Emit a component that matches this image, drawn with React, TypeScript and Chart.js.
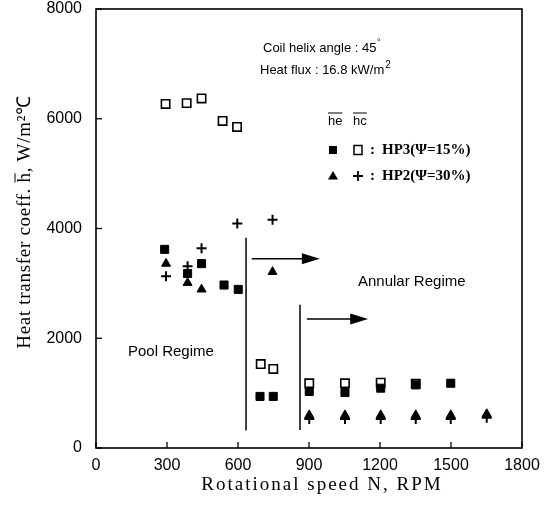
import React, { useEffect, useRef } from "react";
import { Chart, registerables } from "chart.js";

Chart.register(...registerables);

// ---- axis ticks ----
const xTickValues = [0, 300, 600, 900, 1200, 1500, 1800];
const yTickValues = [0, 2000, 4000, 6000, 8000];

// ---- HP3 (psi = 15%) ----
const hp3HeRpm = [290, 387, 446, 541, 601, 693, 749, 901, 1052, 1203, 1351, 1499];
const hp3HeVal = [3620, 3180, 3360, 2970, 2890, 940, 940, 1030, 1010, 1090, 1150, 1180];
const hp3HcRpm = [294, 383, 446, 535, 596, 696, 749, 901, 1052, 1203, 1351];
const hp3HcVal = [6270, 6285, 6370, 5960, 5850, 1530, 1440, 1180, 1180, 1190, 1170];

// ---- HP2 (psi = 30%) ----
const hp2HeRpm = [296, 387, 446, 746, 901, 1052, 1203, 1351, 1499, 1651];
const hp2HeVal = [3360, 3010, 2890, 3210, 600, 600, 600, 600, 600, 620];
const hp2HcRpm = [296, 387, 446, 597, 746, 901, 1052, 1203, 1351, 1499, 1651];
const hp2HcVal = [3130, 3310, 3640, 4090, 4160, 530, 530, 530, 530, 530, 550];

// ---- regime boundaries and arrows (data units) ----
const poolBoundary = { rpm: 634, from: 3830, to: 320 };
const annularBoundary = { rpm: 862, from: 2610, to: 330 };
const poolArrow = { fromRpm: 658, toRpm: 946, val: 3450 };
const annularArrow = { fromRpm: 891, toRpm: 1150, val: 2350 };

const pts = (xs: number[], ys: number[]) => xs.map((x, i) => ({ x, y: ys[i] }));

const SANS = "'Liberation Sans', Arial, sans-serif";
const SERIF = "'Liberation Serif', 'Times New Roman', serif";

function drawArrow(ctx: CanvasRenderingContext2D, x1: number, x2: number, y: number) {
  ctx.beginPath();
  ctx.moveTo(x1, y);
  ctx.lineTo(x2 - 14, y);
  ctx.lineWidth = 1.5;
  ctx.stroke();
  ctx.beginPath();
  ctx.moveTo(x2, y);
  ctx.lineTo(x2 - 18, y - 5.5);
  ctx.lineTo(x2 - 18, y + 5.5);
  ctx.closePath();
  ctx.fill();
}

const overlay = {
  id: "overlay",
  afterDraw(chart: any) {
    const ctx: CanvasRenderingContext2D = chart.ctx;
    const { left, right, top, bottom } = chart.chartArea;
    const xs = chart.scales.x;
    const ys = chart.scales.y;
    ctx.save();
    ctx.strokeStyle = "#000";
    ctx.fillStyle = "#000";

    // frame
    ctx.lineWidth = 1.6;
    ctx.strokeRect(left, top, right - left, bottom - top);

    // inward tick marks
    ctx.lineWidth = 1.3;
    xTickValues.forEach((v) => {
      const px = xs.getPixelForValue(v);
      ctx.beginPath();
      ctx.moveTo(px, bottom);
      ctx.lineTo(px, bottom - 6);
      ctx.stroke();
    });
    yTickValues.forEach((v) => {
      const py = ys.getPixelForValue(v);
      ctx.beginPath();
      ctx.moveTo(left, py);
      ctx.lineTo(left + 6, py);
      ctx.stroke();
    });

    // regime boundaries
    ctx.lineWidth = 1.5;
    [poolBoundary, annularBoundary].forEach((b) => {
      const px = xs.getPixelForValue(b.rpm);
      ctx.beginPath();
      ctx.moveTo(px, ys.getPixelForValue(b.from));
      ctx.lineTo(px, ys.getPixelForValue(b.to));
      ctx.stroke();
    });
    [poolArrow, annularArrow].forEach((a) => {
      drawArrow(ctx, xs.getPixelForValue(a.fromRpm), xs.getPixelForValue(a.toRpm), ys.getPixelForValue(a.val));
    });

    // annotation texts
    ctx.textBaseline = "middle";
    ctx.textAlign = "left";
    ctx.font = `13px ${SANS}`;
    const t1 = "Coil helix angle : 45";
    ctx.fillText(t1, 263, 48);
    const w1 = ctx.measureText(t1).width;
    ctx.font = `9px ${SANS}`;
    ctx.fillText("\u00B0", 263 + w1 + 0.5, 43);
    ctx.font = `13px ${SANS}`;
    const t2 = "Heat flux : 16.8 kW/m";
    ctx.fillText(t2, 260, 70);
    const w2 = ctx.measureText(t2).width;
    ctx.font = `10px ${SANS}`;
    ctx.fillText("2", 260 + w2 + 1, 65);

    ctx.font = `15px ${SANS}`;
    ctx.fillText("Pool Regime", 128, 352);
    ctx.fillText("Annular Regime", 358, 282);

    // legend header with overlines
    ctx.font = `13px ${SANS}`;
    const drawOver = (txt: string, x: number, y: number) => {
      ctx.fillText(txt, x, y);
      const w = ctx.measureText(txt).width;
      ctx.lineWidth = 1;
      ctx.beginPath();
      ctx.moveTo(x, y - 8);
      ctx.lineTo(x + w, y - 8);
      ctx.stroke();
    };
    drawOver("he", 328, 121);
    drawOver("hc", 353, 121);

    // legend rows
    const row1 = 150;
    const row2 = 176;
    ctx.fillRect(333 - 4, row1 - 4, 8, 8);
    ctx.lineWidth = 1.5;
    ctx.strokeRect(358 - 4, row1 - 4.5, 8, 9);
    ctx.beginPath();
    ctx.moveTo(333, row2 - 5);
    ctx.lineTo(338, row2 + 3.5);
    ctx.lineTo(328, row2 + 3.5);
    ctx.closePath();
    ctx.fill();
    ctx.lineWidth = 1.8;
    ctx.beginPath();
    ctx.moveTo(358 - 5, row2);
    ctx.lineTo(358 + 5, row2);
    ctx.moveTo(358, row2 - 5);
    ctx.lineTo(358, row2 + 5);
    ctx.stroke();
    ctx.font = `bold 15px ${SERIF}`;
    ctx.fillText(":", 370, row1);
    ctx.fillText(":", 370, row2);
    ctx.fillText("HP3(\u03A8=15%)", 382, row1);
    ctx.fillText("HP2(\u03A8=30%)", 382, row2);

    // axis titles
    ctx.font = `19px ${SERIF}`;
    ctx.textAlign = "center";
    (ctx as any).letterSpacing = "2px";
    ctx.fillText("Rotational speed N, RPM", 322, 485);

    (ctx as any).letterSpacing = "0.7px";
    ctx.translate(25, 222);
    ctx.rotate(-Math.PI / 2);
    const p1 = "Heat transfer coeff. ";
    const p2 = "h";
    const p3 = ", W/m\u00B2\u2103";
    const wa = ctx.measureText(p1).width;
    const wb = ctx.measureText(p2).width;
    const wc = ctx.measureText(p3).width;
    const x0 = -(wa + wb + wc) / 2;
    ctx.textAlign = "left";
    ctx.fillText(p1, x0, 0);
    ctx.fillText(p2, x0 + wa, 0);
    ctx.lineWidth = 1;
    ctx.beginPath();
    ctx.moveTo(x0 + wa, -10);
    ctx.lineTo(x0 + wa + wb - 1, -10);
    ctx.stroke();
    ctx.fillText(p3, x0 + wa + wb, 0);
    (ctx as any).letterSpacing = "0px";

    ctx.restore();
  },
};

export default function App() {
  const ref = useRef<HTMLCanvasElement>(null);

  useEffect(() => {
    const canvas = ref.current;
    if (!canvas) return;
    const tickFont = { family: "'Liberation Sans', Arial, sans-serif", size: 16 };
    const chart = new Chart(canvas, {
      type: "scatter",
      data: {
        datasets: [
          {
            label: "HP3 he",
            data: pts(hp3HeRpm, hp3HeVal),
            pointStyle: "rect",
            pointRadius: 5.7,
            backgroundColor: "#000",
            borderColor: "#000",
            borderWidth: 1,
          },
          {
            label: "HP2 he",
            data: pts(hp2HeRpm, hp2HeVal),
            pointStyle: "triangle",
            pointRadius: 5.2,
            backgroundColor: "#000",
            borderColor: "#000",
            borderWidth: 1,
          },
          {
            label: "HP2 hc",
            data: pts(hp2HcRpm, hp2HcVal),
            pointStyle: "cross",
            pointRadius: 5,
            backgroundColor: "#000",
            borderColor: "#000",
            borderWidth: 2,
          },
          {
            label: "HP3 hc",
            data: pts(hp3HcRpm, hp3HcVal),
            pointStyle: "rect",
            pointRadius: 5.9,
            backgroundColor: "#fff",
            borderColor: "#000",
            borderWidth: 1.6,
          },
        ],
      },
      options: {
        responsive: false,
        animation: false,
        devicePixelRatio: 1,
        events: [],
        layout: { padding: { top: 9, right: 31, left: 0, bottom: 0 } },
        plugins: { legend: { display: false }, tooltip: { enabled: false } },
        scales: {
          x: {
            type: "linear",
            min: 0,
            max: 1800,
            afterFit: (s: any) => {
              s.height = 505 - 448;
              s.paddingLeft = 0;
              s.paddingRight = 0;
            },
            afterBuildTicks: (s: any) => {
              s.ticks = xTickValues.map((v) => ({ value: v }));
            },
            grid: { display: false, drawTicks: false },
            border: { display: false },
            ticks: {
              padding: 8,
              maxRotation: 0,
              autoSkip: false,
              color: "#000",
              font: tickFont,
              callback: (v: any) => String(v),
            },
          },
          y: {
            type: "linear",
            min: 0,
            max: 8000,
            afterFit: (s: any) => {
              s.width = 96;
              s.paddingTop = 0;
              s.paddingBottom = 0;
            },
            afterBuildTicks: (s: any) => {
              s.ticks = yTickValues.map((v) => ({ value: v }));
            },
            grid: { display: false, drawTicks: false },
            border: { display: false },
            ticks: {
              padding: 14,
              autoSkip: false,
              color: "#000",
              font: tickFont,
              callback: (v: any) => String(v),
            },
          },
        },
      } as any,
      plugins: [overlay],
    });
    return () => chart.destroy();
  }, []);

  return (
    <div style={{ position: "fixed", left: 0, top: 0, width: 553, height: 505, background: "#fff" }}>
      <canvas ref={ref} width={553} height={505} style={{ display: "block", width: 553, height: 505 }} />
    </div>
  );
}
